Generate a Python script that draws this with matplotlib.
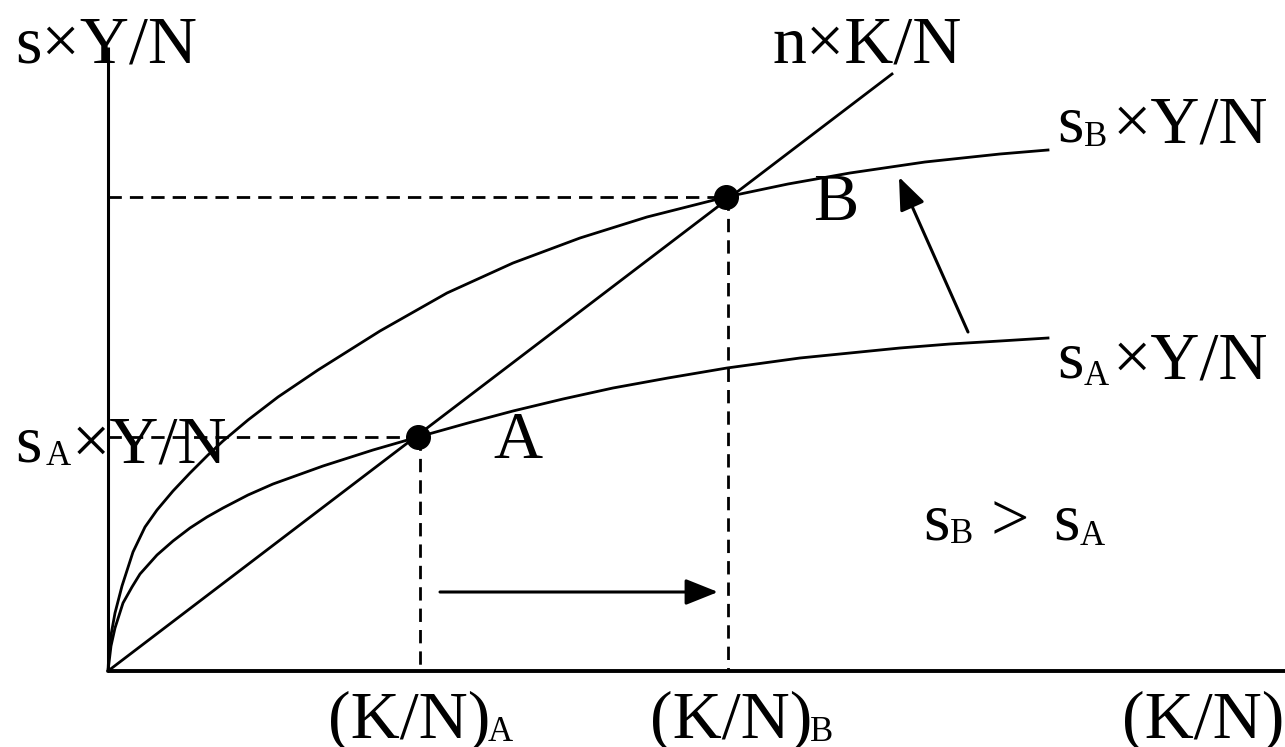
import matplotlib.pyplot as plt

plt.rcParams['font.family'] = ['Liberation Serif', 'DejaVu Serif']

# capital per worker (x) and saving per worker (y)
k_sA = [0, 3, 7, 15, 24, 32, 49, 65, 82, 99, 115, 140, 165, 215, 265, 310, 360, 405,
        455, 505, 560, 619, 692, 742, 792, 842, 892, 940]
y_sA = [0, 25, 43, 68, 84, 97, 116, 130, 143, 154, 163, 176, 187, 205, 221, 234, 248, 260,
        272, 283, 293, 303, 313, 318, 323, 327, 330, 333]

k_sB = [0, 1, 3, 7, 14, 25, 37, 49, 65, 82, 100, 115, 140, 170, 210, 272, 339, 405,
        472, 539, 618, 680, 742, 817, 892, 940]
y_sB = [0, 20, 36, 58, 85, 119, 144, 161, 180, 198, 216, 230, 251, 274, 301, 340, 378, 408,
        433, 454, 474, 487, 498, 509, 517, 521]

# break-even investment n x K/N
k_line = [0, 784]
y_line = [0, 597]

# steady states
steady_k = [310, 618]
steady_y = [234, 474]

BIG = 49
SUB = 25


def txt(ax, x, y, s, size=BIG):
    ax.text(x, y, s, fontsize=size, ha='left', va='baseline', color='k')


def main():
    fig = plt.figure(figsize=(12.85, 7.47), dpi=100)
    ax = fig.add_axes([0, 0, 1, 1])
    ax.set_xlim(-108, 1177)
    ax.set_ylim(-76, 671)
    ax.axis('off')

    lw = 2.0
    # axes
    ax.plot([0, 0], [0, 624], color='k', lw=2.2, solid_capstyle='butt')
    ax.plot([0, 1177], [0, 0], color='k', lw=2.8, solid_capstyle='butt')

    # curves
    ax.plot(k_sA, y_sA, color='k', lw=lw, solid_joinstyle='round')
    ax.plot(k_sB, y_sB, color='k', lw=lw, solid_joinstyle='round')
    ax.plot(k_line, y_line, color='k', lw=lw)

    # dashed guides to the axes
    dash = (0, (4.8, 2.9))
    for k, y in zip(steady_k, steady_y):
        ax.plot([0, k], [y, y], color='k', lw=lw, linestyle=dash)
        ax.plot([k + 2, k + 2], [y, 0], color='k', lw=lw, linestyle=dash)

    ax.plot(steady_k, steady_y, 'o', ms=17, color='k', zorder=5)

    # arrows
    arr = dict(arrowstyle='-|>,head_length=0.5,head_width=0.2', mutation_scale=40,
               lw=2.2, color='k', shrinkA=0, shrinkB=0)
    ax.annotate('', xy=(steady_k[1] - 8, 79), xytext=(steady_k[0] + 22, 79), arrowprops=arr)
    ax.annotate('', xy=(791, 494), xytext=(860, 339), arrowprops=arr)

    # labels
    txt(ax, -93, 609, 's×Y/N')
    txt(ax, 664, 609, 'n×K/N')

    txt(ax, 949, 529, 's')
    txt(ax, 976, 525, 'B', SUB)
    txt(ax, 1005, 529, '×Y/N')

    txt(ax, 949, 293, 's')
    txt(ax, 976, 286, 'A', SUB)
    txt(ax, 1005, 293, '×Y/N')

    txt(ax, -93, 209, 's')
    txt(ax, -62, 206, 'A', SUB)
    txt(ax, -36, 209, '×Y/N')

    txt(ax, 385, 213, 'A')
    txt(ax, 705, 451, 'B')

    txt(ax, 815, 131, 's')
    txt(ax, 842, 128, 'B', SUB)
    txt(ax, 882, 131, '>')
    txt(ax, 945, 131, 's')
    txt(ax, 972, 126, 'A', SUB)

    txt(ax, 220, -67, '(K/N)')
    txt(ax, 380, -70, 'A', SUB)
    txt(ax, 542, -67, '(K/N)')
    txt(ax, 702, -70, 'B', SUB)
    txt(ax, 1014, -67, '(K/N)')

    fig.savefig('out.png', dpi=100)


main()
